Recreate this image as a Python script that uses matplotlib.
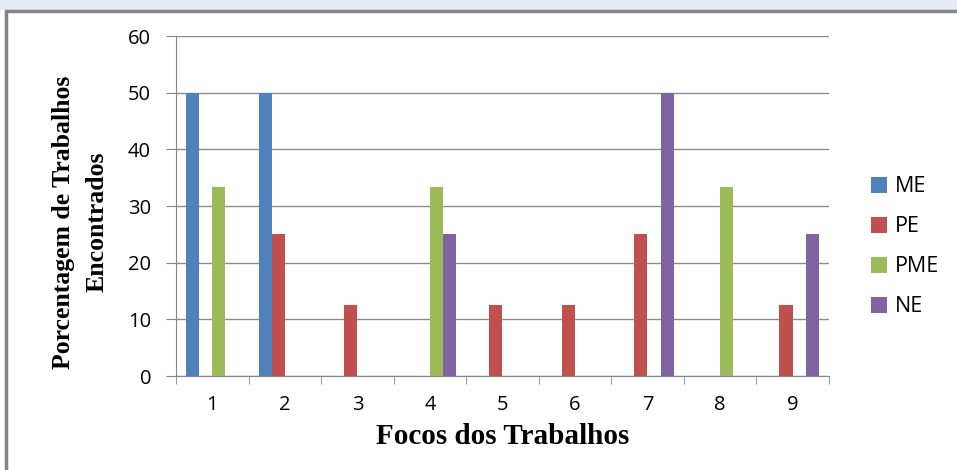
import numpy as np
import matplotlib.pyplot as plt
from matplotlib.patches import Rectangle

# Percent of works per focus, by category
focos = ['1', '2', '3', '4', '5', '6', '7', '8', '9']
me = [50, 50, 0, 0, 0, 0, 0, 0, 0]
pe = [0, 25, 12.5, 0, 12.5, 12.5, 25, 0, 12.5]
pme = [33.3, 0, 0, 33.3, 0, 0, 0, 33.3, 0]
ne = [0, 0, 0, 25, 0, 0, 50, 0, 25]

series = [('ME', me, '#4F81BD'), ('PE', pe, '#C0504D'),
          ('PME', pme, '#9BBB59'), ('NE', ne, '#8064A2')]

fig = plt.figure(figsize=(9.57, 4.70), dpi=100)

# outer frame and pale strip at the top
fig.patches.append(Rectangle((0, 0.978), 1, 0.022, transform=fig.transFigure,
                             facecolor='#e3ecf6', edgecolor='none', zorder=-10))
fig.patches.append(Rectangle((0.006, -0.05), 1.1, 1.0268, transform=fig.transFigure,
                             facecolor='white', edgecolor='#858585', linewidth=2.5, zorder=-10))

ax = fig.add_axes([0.184, 0.2, 0.682, 0.723])
ax.patch.set_alpha(0)
x = np.arange(len(focos)) + 1
w = 0.18
for k, (name, vals, col) in enumerate(series):
    ax.bar(x + (k - 1.5) * w, vals, w, color=col, label=name, zorder=3)

ax.set_xlim(0.5, 9.5)
ax.set_ylim(0, 60)
ax.set_yticks(range(0, 61, 10))
ax.set_xticks(x)
ax.set_xticklabels(focos)
ax.set_xticks(np.arange(0.5, 9.6, 1), minor=True)
ax.tick_params(axis='x', which='major', length=0, pad=14, labelsize=14.5)
ax.tick_params(axis='x', which='minor', length=6, color='#868686', direction='out')
ax.tick_params(axis='y', length=7, color='#868686', labelsize=14.5, pad=11)
for lab in ax.get_xticklabels() + ax.get_yticklabels():
    lab.set_fontfamily('Open Sans')

ax.grid(axis='y', color='#8c8c8c', linewidth=1, zorder=0)
for s in ['top', 'right']:
    ax.spines[s].set_visible(False)
for s in ['left', 'bottom']:
    ax.spines[s].set_color('#868686')

ax.set_xlabel('Focos dos Trabalhos', fontfamily='Liberation Serif',
              fontweight='bold', fontsize=21, va='center')
ax.xaxis.set_label_coords(0.5, -0.179)
ax.set_ylabel('Porcentagem de Trabalhos\nEncontrados', fontfamily='Liberation Serif',
              fontweight='bold', fontsize=18.5, linespacing=1.55, va='center')
ax.yaxis.set_label_coords(-0.147, 0.453)

leg = ax.legend(loc='center left', bbox_to_anchor=(1.035, 0.38), frameon=False,
                handlelength=0.75, handleheight=0.75, handletextpad=0.35,
                labelspacing=0.88, prop={'family': 'Open Sans', 'size': 15.5})

fig.savefig('out.png', dpi=100)
